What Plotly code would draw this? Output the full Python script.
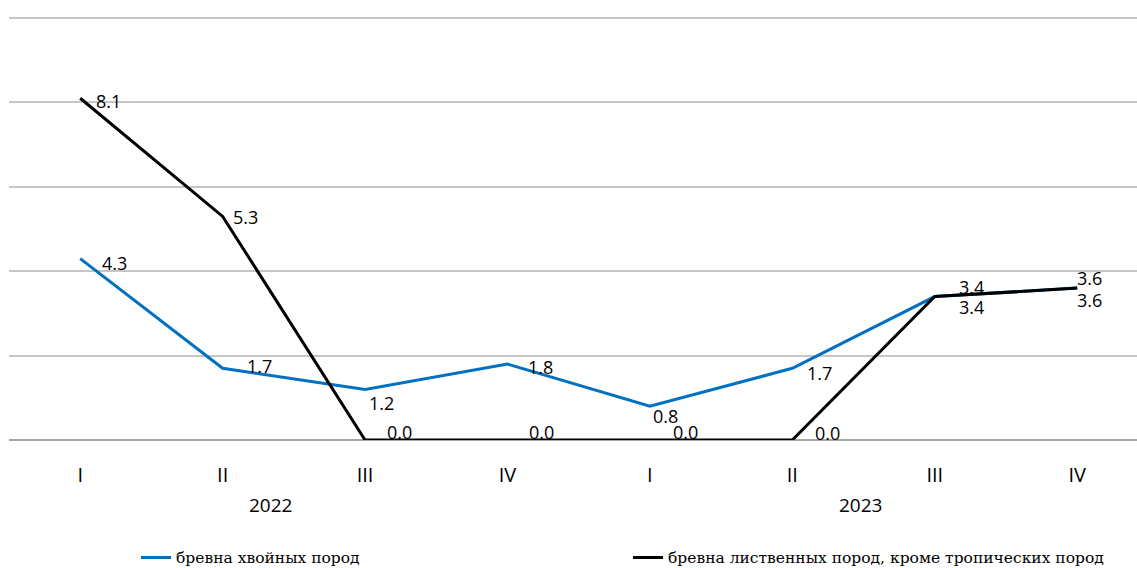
import plotly.graph_objects as go

quarters = ["I", "II", "III", "IV", "I", "II", "III", "IV"]
years = ["2022", "2023"]
series_names = ["бревна хвойных пород", "бревна лиственных пород, кроме тропических пород"]
conifer = [4.3, 1.7, 1.2, 1.8, 0.8, 1.7, 3.4, 3.6]
deciduous = [8.1, 5.3, 0.0, 0.0, 0.0, 0.0, 3.4, 3.6]

xs = list(range(len(quarters)))

# label offsets in pixels (dx right, dy down) relative to each point
conifer_off = [(20, 4), (22, -2), (2, 14), (19, 3), (1, 10), (13, 5), (22, 10), (-2, 12)]
deciduous_off = [(14, 3), (8, 1), (20, -8), (20, -8), (21, -8), (21, -7), (22, -10), (-2, -10)]

fig = go.Figure()
fig.add_trace(go.Scatter(
    x=xs, y=conifer, name=series_names[0], mode="lines",
    line=dict(color="#0070C0", width=3), hoverinfo="skip",
))
fig.add_trace(go.Scatter(
    x=xs, y=deciduous, name=series_names[1], mode="lines",
    line=dict(color="#000000", width=3), hoverinfo="skip",
))

for vals, offs in ((conifer, conifer_off), (deciduous, deciduous_off)):
    for i, (v, (dx, dy)) in enumerate(zip(vals, offs)):
        fig.add_annotation(x=xs[i], y=v, xref="x", yref="y", text=f"{v:.1f}",
                           showarrow=False, xanchor="left", yanchor="middle",
                           xshift=dx, yshift=-dy,
                           font=dict(family="Open Sans", size=18, color="#000000"))

year_x = [1.334, 5.476]
for yx, yl in zip(year_x, years):
    fig.add_annotation(x=yx, y=-0.153, xref="x", yref="paper", text=yl,
                       showarrow=False, yanchor="middle",
                       font=dict(family="Open Sans", size=19, color="#000000"))

fig.update_layout(
    width=1137, height=576,
    margin=dict(l=9, r=0, t=16, b=136),
    paper_bgcolor="white", plot_bgcolor="white",
    showlegend=True,
    legend=dict(orientation="h", x=0.1126, y=-0.278, xanchor="left", yanchor="middle",
                font=dict(family="DejaVu Serif", size=15.5, color="#000000"),
                entrywidth=447, entrywidthmode="pixels", itemwidth=30),
    xaxis=dict(range=[-0.5, 7.42], tickvals=xs, ticktext=quarters, showgrid=False,
               zeroline=False, showline=False, ticks="", ticklabelstandoff=21,
               tickfont=dict(family="Open Sans", size=20, color="#000000"), fixedrange=True),
    yaxis=dict(range=[0, 10.05], tickvals=[0, 2, 4, 6, 8, 10], showticklabels=False,
               showgrid=True, gridcolor="#C6C6C6", gridwidth=1.5, zeroline=True,
               zerolinecolor="#A6A6A6", zerolinewidth=2, showline=False, fixedrange=True),
)

fig.write_html("out.html", config={"displayModeBar": False},
               post_script="document.body.style.margin='0';document.body.style.overflow='hidden';")
